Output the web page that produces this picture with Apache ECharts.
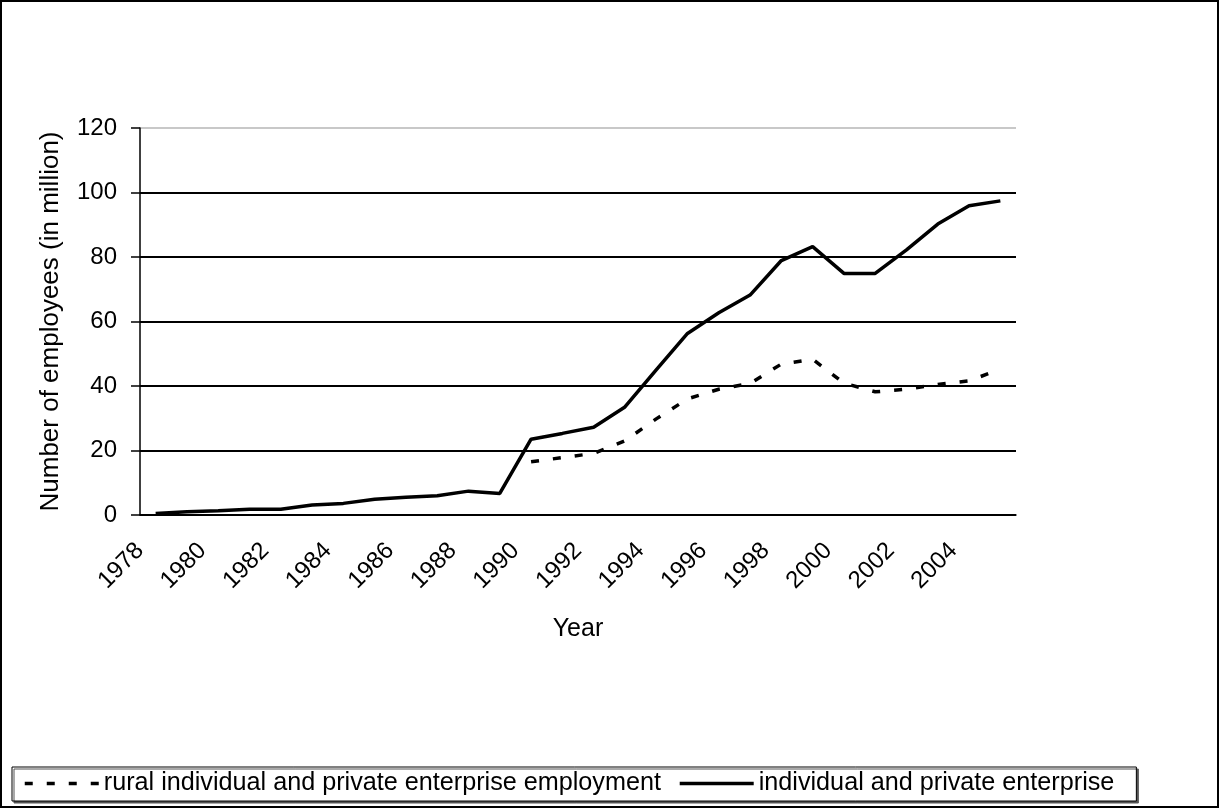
<!DOCTYPE html>
<html>
<head>
<meta charset="utf-8">
<title>Employees in individual and private enterprises</title>
<script src="https://cdn.jsdelivr.net/npm/echarts@6/dist/echarts.min.js"></script>
<style>
  html, body { margin: 0; padding: 0; background: #fff; }
  #chart { width: 1220px; height: 809px; }
</style>
</head>
<body>
<div id="chart"></div>
<script>
// values (million employees)
const years = [1978, 1979, 1980, 1981, 1982, 1983, 1984, 1985, 1986, 1987, 1988, 1989, 1990, 1991,
  1992, 1993, 1994, 1995, 1996, 1997, 1998, 1999, 2000, 2001, 2002, 2003, 2004, 2005];
const privateTotal = [0.5, 1.0, 1.3, 1.8, 1.8, 3.1, 3.6, 4.9, 5.5, 6.0, 7.4, 6.7, 23.5, 25.3,
  27.2, 33.5, 45.0, 56.3, 62.7, 68.2, 78.9, 83.2, 74.9, 74.9, 82.2, 90.2, 95.9, 97.4];
const ruralPrivate = [null, null, null, null, null, null, null, null, null, null, null, null, 16.5, 17.8,
  19.1, 23.0, 29.8, 36.0, 39.0, 40.8, 46.8, 48.3, 40.9, 38.2, 39.0, 40.5, 41.6, 45.2];
const seriesNames = ['rural individual and private enterprise employment', 'individual and private enterprise'];
const yMin = 0, yMax = 120, yStep = 20;
const yearStep = 2;

const font = '"Liberation Sans", Arial, sans-serif';
const chart = echarts.init(document.getElementById('chart'), null, { renderer: 'canvas' });

const option = {
  backgroundColor: '#fff',
  animation: false,
  textStyle: { fontFamily: font, color: '#000' },
  grid: { left: 140, right: 204, top: 128, bottom: 294 },
  graphic: [{
    type: 'rect',
    shape: { x: 1, y: 1, width: 1217, height: 806 },
    style: { fill: 'none', stroke: '#000', lineWidth: 2 },
    silent: true
  }],
  legend: {
    left: 12,
    top: 767,
    itemWidth: 74,
    itemHeight: 14,
    itemGap: 17,
    padding: [4, 22, 5, 11],
    borderColor: '#000',
    borderWidth: 1,
    shadowColor: '#555',
    shadowOffsetX: 2,
    shadowOffsetY: 2,
    backgroundColor: '#fff',
    itemStyle: { opacity: 0 },
    lineStyle: { width: 3.5 },
    textStyle: { fontFamily: font, fontSize: 25.2, color: '#000' },
    data: seriesNames
  },
  xAxis: [
    {
      type: 'category',
      data: years,
      boundaryGap: true,
      name: 'Year',
      nameLocation: 'middle',
      nameGap: 102,
      nameTextStyle: { fontFamily: font, fontSize: 25, color: '#000' },
      axisLine: { lineStyle: { color: '#000', width: 1.5 } },
      axisTick: { interval: 0, length: 8, lineStyle: { color: '#000', width: 1.5 } },
      axisLabel: { show: false },
      splitLine: { show: false }
    },
    {
      // label-only axis: year labels sit on the category boundaries like the original
      type: 'value',
      position: 'bottom',
      min: years[0],
      max: years[years.length - 1] + 1,
      interval: yearStep,
      axisLine: { show: false },
      axisTick: { show: false },
      splitLine: { show: false },
      axisLabel: {
        rotate: 45,
        margin: 32,
        fontFamily: font,
        fontSize: 24,
        color: '#000',
        showMaxLabel: false,
        formatter: v => String(v)
      }
    }
  ],
  yAxis: {
    type: 'value',
    min: yMin,
    max: yMax,
    interval: yStep,
    name: 'Number of employees (in million)',
    nameLocation: 'middle',
    nameGap: 76,
    nameTextStyle: { fontFamily: font, fontSize: 26, color: '#000' },
    axisLine: { show: true, lineStyle: { color: '#000', width: 1.5 } },
    axisTick: { show: true, length: 9, lineStyle: { color: '#000', width: 1.5 } },
    axisLabel: { margin: 23, fontFamily: font, fontSize: 24, color: '#000' },
    splitLine: {
      lineStyle: { color: ['#000', '#000', '#000', '#000', '#000', '#000', '#c8c8c8'], width: 2 }
    }
  },
  series: [
    {
      name: seriesNames[0],
      type: 'line',
      xAxisIndex: 0,
      data: ruralPrivate,
      symbol: 'none',
      connectNulls: false,
      lineStyle: { color: '#000', width: 3.5, type: [8, 14] },
      itemStyle: { color: '#000' }
    },
    {
      name: seriesNames[1],
      type: 'line',
      xAxisIndex: 0,
      data: privateTotal,
      symbol: 'none',
      lineStyle: { color: '#000', width: 3.5 },
      itemStyle: { color: '#000' }
    }
  ]
};

chart.setOption(option);
</script>
</body>
</html>
